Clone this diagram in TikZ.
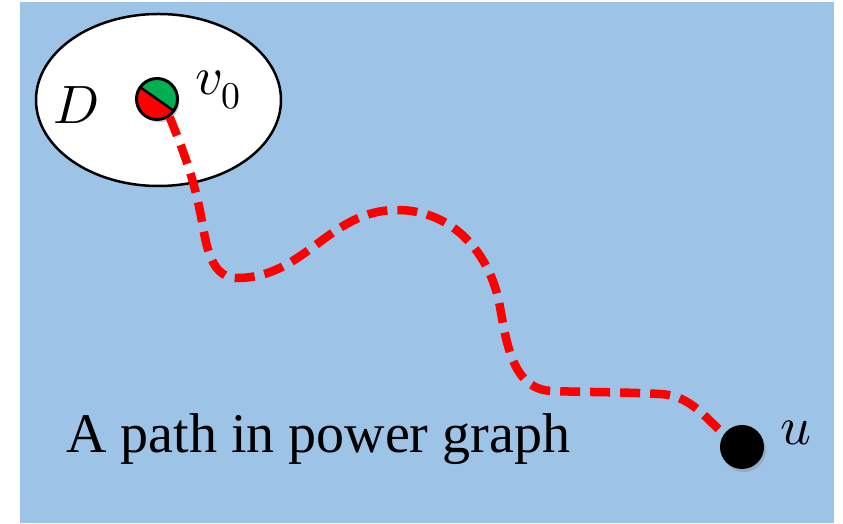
\documentclass[tikz,border=0pt]{standalone}
\usepackage{fontspec}
\usepackage{unicode-math}
\setmainfont{Liberation Serif}
\setmathfont{Latin Modern Math}
\usetikzlibrary{shadows}
\definecolor{skyblue}{HTML}{9DC3E6}
\definecolor{vgreen}{HTML}{00B050}

\begin{document}
\begin{tikzpicture}[x=1pt, y=1pt,
    vertex/.style={circle, fill=black, minimum size=44pt, inner sep=0pt,
      drop shadow={opacity=0.35, shadow xshift=2pt, shadow yshift=-3pt}},
    root/.style={circle, draw, line width=3pt, fill=red, minimum size=41pt, inner sep=0pt,
      drop shadow={opacity=0.35, shadow xshift=2pt, shadow yshift=-3pt},
      path picture={
        \fill[vgreen] (path picture bounding box.center) -- ++(145:30pt)
          arc[start angle=145, end angle=-35, radius=30pt] -- cycle;
        \draw[line width=2.5pt] (path picture bounding box.center) ++(145:30pt) -- ++(-35:60pt);}},
    walk/.style={red, line width=8.5pt, dash pattern=on 20pt off 10pt},
    lbl/.style={font=\fontsize{54}{62}\selectfont, inner sep=0pt}]
    % Background
    \fill[white] (0,0) rectangle (843,524);
    \useasboundingbox (0,0) rectangle (843,524);
    \fill[skyblue] (20,1) rectangle (834,522);
    % Set D
    \draw[line width=2.5pt, fill=white] (158.5,424) ellipse [x radius=122.5pt, y radius=86pt];
    \node[lbl, anchor=base] (dlabel) at (76,400) {$D$};
    % Start and end vertices
    \node[root] (v0) at (157,425) {};
    \node[lbl, anchor=base west] (v0label) at (195,429) {$v_0$};
    \coordinate (uc) at (742,77);
    % The path
    \draw[walk] (v0.-55) to[out=-68, in=100] (203,297)
      to[out=-80, in=180] (237,246)
      to[out=0, in=180] (397,314)
      to[out=0, in=100] (500,217)
      to[out=-80, in=178] (552,133)
      to[out=-2, in=177] (660,130)
      to[out=-3, in=150] (uc);
    \node[vertex] (u) at (uc) {};
    \node[lbl, anchor=base] (ulabel) at (796,79) {$u$};
    % Caption
    \node[lbl, font=\fontsize{56}{64}\selectfont, anchor=base west] (caption) at (66,71) {A path in power graph};
\end{tikzpicture}
\end{document}
